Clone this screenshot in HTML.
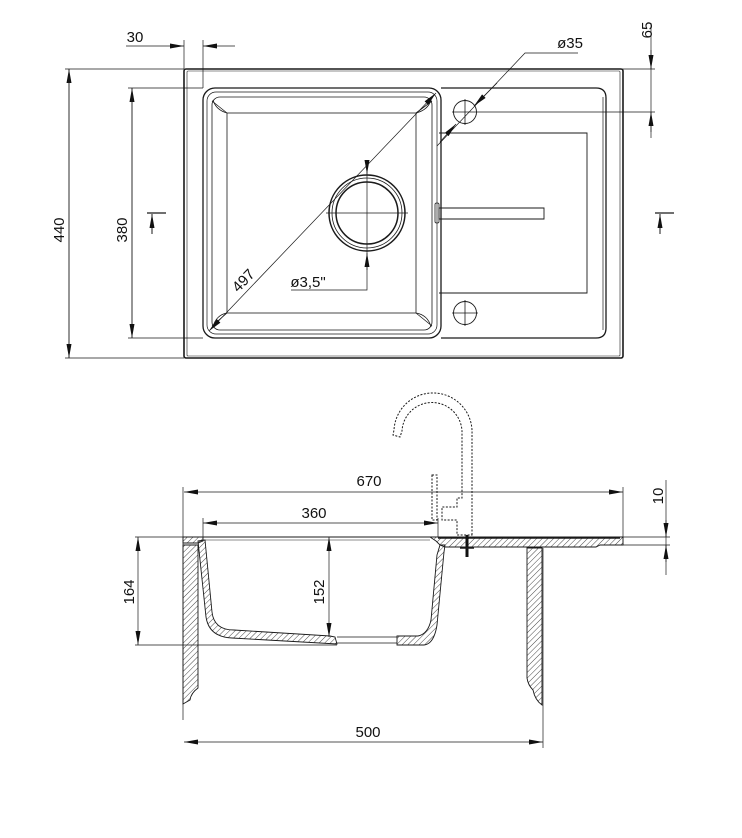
<!DOCTYPE html>
<html><head><meta charset="utf-8"><style>
html,body{margin:0;padding:0;background:#fff;}
svg{display:block}
text{font-family:"Liberation Sans",sans-serif;font-size:15px;fill:#111;}
</style></head><body>
<svg width="742" height="838" viewBox="0 0 742 838" xmlns="http://www.w3.org/2000/svg">
<defs>
<pattern id="h" width="4" height="4" patternUnits="userSpaceOnUse" patternTransform="rotate(45)">
<line x1="0" y1="0" x2="0" y2="4" stroke="#333" stroke-width="0.9"/>
</pattern>
<marker id="a" viewBox="0 0 14 5" refX="14" refY="2.5" markerWidth="14" markerHeight="5" markerUnits="userSpaceOnUse" orient="auto-start-reverse">
<path d="M0,0 L14,2.5 L0,5 z" fill="#111"/>
</marker>
</defs>
<g fill="none" stroke="#1a1a1a" stroke-width="1">
<!-- TOP VIEW -->
<rect x="184" y="69" width="439" height="289" rx="2" stroke-width="1.6"/>
<rect x="187" y="71" width="433" height="285" rx="1" stroke-width="0.6"/>
<rect x="203" y="88" width="238" height="250" rx="12" stroke-width="1.3"/>
<rect x="207" y="92" width="230" height="242" rx="9" stroke-width="0.7"/>
<rect x="212" y="97" width="220" height="233" rx="8" stroke-width="0.8"/>
<rect x="227" y="113" width="189" height="200" stroke-width="0.8"/>
<path d="M212,101 L227,113 M432,101 L416,113 M212,326 L227,313 M432,326 L416,313" stroke-width="0.8"/>
<path d="M213,100 Q216,110 227,113 M431,100 Q428,110 416,113 M213,327 Q216,315 227,313 M431,327 Q428,315 416,313" stroke-width="0.8"/>
<circle cx="367" cy="213" r="38" stroke-width="1.5"/>
<circle cx="367" cy="213" r="35" stroke-width="0.8"/>
<circle cx="367" cy="213" r="31" stroke-width="1.5"/>
<path d="M326,213 L408,213 M367,162 L367,290 L291,290" stroke-width="0.7"/>
<path d="M367,162 L367,174" marker-end="url(#a)" stroke-width="0.7"/>
<path d="M367,270 L367,253" marker-end="url(#a)" stroke-width="0.7"/>
<path d="M209,331 L436,93" stroke-width="0.7" marker-start="url(#a)" marker-end="url(#a)"/>
<path d="M441,88 L596,88 Q606,88 606,98 L606,328 Q606,338 596,338 L441,338" stroke-width="1.3"/>
<path d="M603,97 L603,330" stroke-width="0.7"/>
<path d="M439,133 L587,133 L587,293 L439,293" stroke-width="0.9"/>
<path d="M439,208 L544,208 L544,219 L439,219 Z" stroke-width="0.9"/>
<rect x="435" y="203" width="4" height="20" rx="1.5" stroke-width="0.8"/>
<circle cx="465" cy="112" r="11.5" stroke-width="0.9"/>
<circle cx="465" cy="313" r="11.5" stroke-width="0.9"/>
<path d="M452,112 L478,112 M465,99 L465,125 M452,313 L478,313 M465,300 L465,326" stroke-width="0.8"/>
<path d="M578,53 L525,53 L437,146" stroke-width="0.7"/>
<path d="M497,83 L474,106" stroke-width="0.7" marker-end="url(#a)"/>
<path d="M440,142 L456,124" stroke-width="0.7" marker-end="url(#a)"/>
<path d="M184,40 L184,69 M203,40 L203,88" stroke-width="0.7"/>
<path d="M166,46 L184,46" stroke-width="0.7" marker-end="url(#a)"/>
<path d="M235,46 L203,46" stroke-width="0.7" marker-end="url(#a)"/>
<path d="M126,46 L166,46" stroke-width="0.7"/>
<path d="M65,69 L184,69 M65,358 L184,358" stroke-width="0.7"/>
<path d="M69,358 L69,69" stroke-width="0.7" marker-end="url(#a)"/>
<path d="M69,69 L69,358" stroke-width="0.7" marker-end="url(#a)"/>
<path d="M128,88 L203,88 M128,338 L203,338" stroke-width="0.7"/>
<path d="M132,338 L132,88" stroke-width="0.7" marker-end="url(#a)"/>
<path d="M132,88 L132,338" stroke-width="0.7" marker-end="url(#a)"/>
<path d="M620,69 L655,69 M478,112 L655,112" stroke-width="0.7"/>
<path d="M651,23 L651,138" stroke-width="0.7"/>
<path d="M651,50 L651,69" stroke-width="0.7" marker-end="url(#a)"/>
<path d="M651,132 L651,112" stroke-width="0.7" marker-end="url(#a)"/>
<path d="M147,213 L166,213 M655,213 L674,213" stroke-width="1.2"/>
<path d="M152,234 L152,214" stroke-width="1" marker-end="url(#a)"/>
<path d="M660,234 L660,214" stroke-width="1" marker-end="url(#a)"/>

<!-- BOTTOM VIEW -->
<path d="M183,487 L183,720 M623,487 L623,545 M543,548 L543,748 M203,518 L203,537 M438,518 L438,537" stroke-width="0.7"/>
<path d="M135,537 L184,537 M135,645 L337,645 M623,537 L670,537 M623,545 L670,545" stroke-width="0.7"/>
<path d="M184,492 L623,492" stroke-width="0.7" marker-start="url(#a)" marker-end="url(#a)"/>
<path d="M203,523 L438,523" stroke-width="0.7" marker-start="url(#a)" marker-end="url(#a)"/>
<path d="M184,742 L543,742" stroke-width="0.7" marker-start="url(#a)" marker-end="url(#a)"/>
<path d="M138,537 L138,645" stroke-width="0.7" marker-start="url(#a)" marker-end="url(#a)"/>
<path d="M329,537 L329,637" stroke-width="0.7" marker-start="url(#a)" marker-end="url(#a)"/>
<path d="M666,480 L666,575" stroke-width="0.7"/>
<path d="M666,520 L666,537" stroke-width="0.7" marker-end="url(#a)"/>
<path d="M666,562 L666,545" stroke-width="0.7" marker-end="url(#a)"/>
<path d="M203,537 L438,537" stroke-width="1"/>
<path d="M203,540 L430,540" stroke-width="0.5"/>
<path d="M183,537 L203,537 L203,541 L198,543 L183,543 Z" fill="url(#h)" stroke-width="0.9"/>
<path d="M183,545 L198,545 L198,688 Q191,693 190,700 L183,704 Z" fill="url(#h)" stroke-width="0.9"/>
<path d="M527,548 L542,548 L542,705 Q535,700 533,690 Q528,685 527,678 Z" fill="url(#h)" stroke-width="0.9"/>
<path d="M198,541 L205,540 L212,612 Q214,630 234,630 L330,636 L335,637 L337,644 L232,638 Q209,637 206,617 Z" fill="url(#h)" stroke-width="0.9"/>
<path d="M337,637 L397,637 M337,643 L397,643" stroke-width="0.7"/>
<path d="M397,636 L418,636 Q428,634 431,620 L437,555 L440,545 L445,545 L444,552 L437,625 Q434,644 424,645 L397,645 Z" fill="url(#h)" stroke-width="0.9"/>
<path d="M430,537 L623,537 L623,545 L600,545 L596,547 L445,547 L440,545 L436,541 Z" fill="url(#h)" stroke-width="0.9"/>
<path d="M438,538 L620,538" stroke-width="1.6"/>
<path d="M467,535 L467,557" stroke="#111" stroke-width="3"/>
<path d="M460,548 L474,548" stroke-width="1.5"/>
<g stroke-dasharray="2,1.5" stroke-width="1">
<path d="M472,535 L472,434 A39,39 0 0 0 394,430 L393,435 L400,437 L402,431 A29,29 0 0 1 462,434 L462,498 L457,498 L457,507 L442,507 L442,520 L457,520 L457,535 Z"/>
<path d="M432,475 L437,475 L437,520 L432,520 Z"/>
</g>
</g>
<text x="135" y="42" text-anchor="middle">30</text>
<text x="570" y="48" text-anchor="middle">ø35</text>
<text transform="translate(652,30) rotate(-90)" text-anchor="middle">65</text>
<text transform="translate(64,230) rotate(-90)" text-anchor="middle">440</text>
<text transform="translate(127,230) rotate(-90)" text-anchor="middle">380</text>
<text transform="translate(247,284) rotate(-46)" text-anchor="middle">497</text>
<text x="308" y="287" text-anchor="middle">ø3,5"</text>
<text x="369" y="486" text-anchor="middle">670</text>
<text x="314" y="518" text-anchor="middle">360</text>
<text transform="translate(663,496) rotate(-90)" text-anchor="middle">10</text>
<text transform="translate(134,592) rotate(-90)" text-anchor="middle">164</text>
<text transform="translate(324,592) rotate(-90)" text-anchor="middle">152</text>
<text x="368" y="737" text-anchor="middle">500</text>
</svg>
</body></html>
